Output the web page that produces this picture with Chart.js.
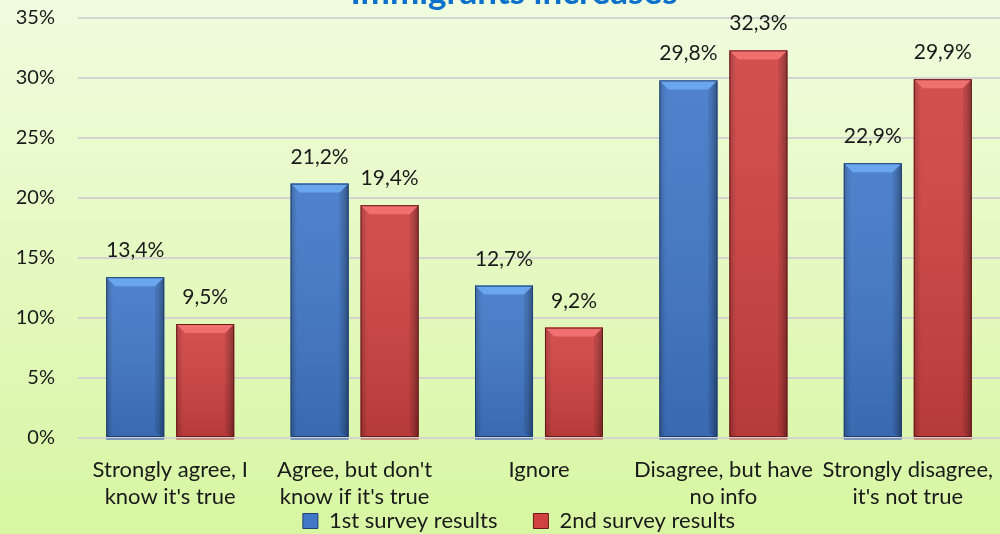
<!DOCTYPE html>
<html>
<head>
<meta charset="utf-8">
<script src="https://cdn.jsdelivr.net/npm/chart.js@4.4.1/dist/chart.umd.min.js"></script>
<style>
  html, body { margin: 0; padding: 0; overflow: hidden; width: 1000px; height: 534px; background: #e4f9bd; }
</style>
</head>
<body>
<canvas id="c" width="1000" height="534" style="width:1000px;height:534px;display:block"></canvas>
<script>
const titleText = "Immigrants increases";
const categories = [
  ["Strongly agree, I", "know it's true"],
  ["Agree, but don't", "know if it's true"],
  ["Ignore"],
  ["Disagree, but have", "no info"],
  ["Strongly disagree,", "it's not true"]
];
const seriesNames = ["1st survey results", "2nd survey results"];
const firstSurvey = [13.4, 21.2, 12.7, 29.8, 22.9];
const secondSurvey = [9.5, 19.4, 9.2, 32.3, 29.9];
const yTicks = [0, 5, 10, 15, 20, 25, 30, 35];

const FONT = "Lato";
const palette = [
  { base: "#4178c8", light: "#6aa6ee", edge: "#1d3e70" },
  { base: "#d04242", light: "#f07070", edge: "#6a1818" }
];

const bgPlugin = {
  id: "bg",
  beforeDraw(chart) {
    const { ctx, width, height } = chart;
    const g = ctx.createLinearGradient(0, 0, 0, height);
    g.addColorStop(0, "#f0fcdf");
    g.addColorStop(1, "#d8f6a2");
    ctx.save();
    ctx.fillStyle = g;
    ctx.fillRect(0, 0, width, height);
    ctx.restore();
  }
};

const legendPosPlugin = {
  id: "legendPos",
  afterLayout(chart) {
    const lg = chart.legend;
    if (!lg) return;
    lg.top = 474;
    lg.bottom = 534;
    lg.height = 60;
    lg.left = 19;
    lg.right = 1019;
    lg.width = 1000;
  }
};

const titlePlugin = {
  id: "topTitle",
  afterDraw(chart) {
    const { ctx } = chart;
    ctx.save();
    ctx.font = "bold 35px " + FONT;
    ctx.fillStyle = "#0a70cc";
    ctx.textAlign = "center";
    ctx.textBaseline = "alphabetic";
    ctx.fillText(titleText, 514, 4);
    ctx.restore();
  }
};

const bevelPlugin = {
  id: "bevel",
  afterDatasetsDraw(chart) {
    const { ctx } = chart;
    chart.data.datasets.forEach((ds, di) => {
      const meta = chart.getDatasetMeta(di);
      const p = palette[di];
      meta.data.forEach(bar => {
        const { x, y, base, width } = bar.getProps(["x", "y", "base", "width"], true);
        const l = x - width / 2, r = x + width / 2, t = y, b = base;
        const bv = 9;
        ctx.save();
        const hg = ctx.createLinearGradient(l, 0, r, 0);
        hg.addColorStop(0, "rgba(0,0,0,0.22)");
        hg.addColorStop(0.12, "rgba(0,0,0,0.0)");
        hg.addColorStop(0.88, "rgba(0,0,0,0.0)");
        hg.addColorStop(1, "rgba(0,0,0,0.32)");
        ctx.fillStyle = hg;
        ctx.fillRect(l, t, width, b - t);
        const vg = ctx.createLinearGradient(0, t, 0, b);
        vg.addColorStop(0, "rgba(255,255,255,0.08)");
        vg.addColorStop(1, "rgba(0,0,0,0.12)");
        ctx.fillStyle = vg;
        ctx.fillRect(l, t, width, b - t);
        ctx.beginPath();
        ctx.moveTo(l, t); ctx.lineTo(r, t); ctx.lineTo(r - bv, t + bv); ctx.lineTo(l + bv, t + bv); ctx.closePath();
        ctx.fillStyle = p.light;
        ctx.fill();
        ctx.beginPath();
        ctx.moveTo(r, t); ctx.lineTo(r - bv, t + bv); ctx.lineTo(r - bv, b - 4); ctx.lineTo(r, b); ctx.closePath();
        ctx.fillStyle = "rgba(0,0,0,0.10)";
        ctx.fill();
        ctx.strokeStyle = p.edge;
        ctx.lineWidth = 1;
        ctx.strokeRect(l + 0.5, t + 0.5, width - 1, b - t - 1);
        ctx.fillStyle = di === 0 ? "rgba(90,120,190,0.7)" : "rgba(190,90,90,0.6)";
        ctx.fillRect(l, b + 1, width, 2);
        ctx.restore();
      });
    });
  }
};

const valueLabelPlugin = {
  id: "valueLabels",
  afterDatasetsDraw(chart) {
    const { ctx } = chart;
    ctx.save();
    ctx.font = "21px " + FONT;
    ctx.fillStyle = "#1a1a1a";
    ctx.textAlign = "center";
    ctx.textBaseline = "alphabetic";
    chart.data.datasets.forEach((ds, di) => {
      const meta = chart.getDatasetMeta(di);
      meta.data.forEach((bar, i) => {
        const v = ds.data[i];
        ctx.fillText(v.toFixed(1).replace(".", ",") + "%", bar.x, bar.y - 20);
      });
    });
    ctx.restore();
  }
};

new Chart(document.getElementById("c"), {
  type: "bar",
  data: {
    labels: categories,
    datasets: [
      { label: seriesNames[0], data: firstSurvey, backgroundColor: palette[0].base,
        categoryPercentage: 0.759, barPercentage: 0.829 },
      { label: seriesNames[1], data: secondSurvey, backgroundColor: palette[1].base,
        categoryPercentage: 0.759, barPercentage: 0.829 }
    ]
  },
  options: {
    responsive: false,
    animation: false,
    devicePixelRatio: 1,
    layout: { padding: { left: 0, top: 18, right: 0, bottom: 0 } },
    plugins: {
      legend: {
        position: "bottom",
        maxHeight: 10,
        labels: {
          font: { family: FONT, size: 22 },
          color: "#1a1a1a",
          boxWidth: 15,
          boxHeight: 15,
          padding: 36,
          generateLabels(chart) {
            return chart.data.datasets.map((ds, i) => ({
              text: ds.label,
              fillStyle: palette[i].base,
              strokeStyle: palette[i].edge,
              lineWidth: 1,
              datasetIndex: i,
              hidden: false,
              fontColor: "#1a1a1a"
            }));
          }
        }
      },
      title: { display: false },
      tooltip: { enabled: false }
    },
    scales: {
      x: {
        grid: { display: false, drawTicks: false },
        border: { display: false },
        ticks: {
          font: { family: FONT, size: 22, lineHeight: 1.25 },
          color: "#1a1a1a",
          padding: 18,
          maxRotation: 0,
          autoSkip: false
        },
        afterFit(s) { s.height = 86; s.paddingLeft = 0; s.paddingRight = 0; }
      },
      y: {
        min: 0,
        max: 35,
        afterBuildTicks(s) { s.ticks = yTicks.map(v => ({ value: v })); },
        grid: { color: "#d3d3d0", lineWidth: 2, drawTicks: false },
        border: { display: false },
        ticks: {
          font: { family: FONT, size: 20 },
          color: "#1a1a1a",
          padding: 23,
          callback: v => v + "%"
        },
        afterFit(s) { s.width = 78; s.paddingTop = 0; s.paddingBottom = 0; }
      }
    }
  },
  plugins: [bgPlugin, legendPosPlugin, bevelPlugin, valueLabelPlugin, titlePlugin]
});
</script>
</body>
</html>
